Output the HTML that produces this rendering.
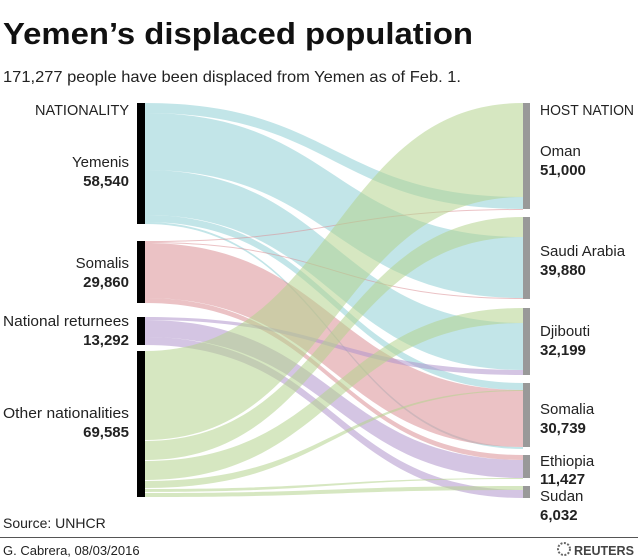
<!DOCTYPE html>
<html><head><meta charset="utf-8"><style>
body{margin:0;background:#fff;}
svg{display:block;font-family:"Liberation Sans",sans-serif;}
</style></head><body>
<svg width="638" height="560" viewBox="0 0 638 560" xmlns="http://www.w3.org/2000/svg">
<text x="3" y="44" font-size="31" font-weight="bold" fill="#111" textLength="470" lengthAdjust="spacingAndGlyphs">Yemen’s displaced population</text>
<text x="3" y="82" font-size="16" fill="#222" textLength="458" lengthAdjust="spacingAndGlyphs">171,277 people have been displaced from Yemen as of Feb. 1.</text>
<g fill-opacity="0.55">
<path fill="#8fd0d6" d="M145,103C334,103 334,197 523,197L523,209C334,209 334,113 145,113Z"/>
<path fill="#8fd0d6" d="M145,113C334,113 334,237 523,237L523,298C334,298 334,170 145,170Z"/>
<path fill="#8fd0d6" d="M145,170C334,170 334,323 523,323L523,370C334,370 334,215 145,215Z"/>
<path fill="#8fd0d6" d="M145,215C334,215 334,383 523,383L523,390C334,390 334,222 145,222Z"/>
<path fill="#8fd0d6" d="M145,222C334,222 334,447 523,447L523,449C334,449 334,224 145,224Z"/>
<path fill="#da8f95" d="M145,241C334,241 334,209 523,209L523,210C334,210 334,242 145,242Z"/>
<path fill="#da8f95" d="M145,242C334,242 334,298 523,298L523,299C334,299 334,243 145,243Z"/>
<path fill="#da8f95" d="M145,243C334,243 334,390 523,390L523,447C334,447 334,298 145,298Z"/>
<path fill="#da8f95" d="M145,298C334,298 334,455 523,455L523,460C334,460 334,303 145,303Z"/>
<path fill="#b096cc" d="M145,317C334,317 334,370 523,370L523,375C334,375 334,320 145,320Z"/>
<path fill="#b096cc" d="M145,320C334,320 334,460 523,460L523,478C334,478 334,337 145,337Z"/>
<path fill="#b096cc" d="M145,337C334,337 334,490 523,490L523,498C334,498 334,345 145,345Z"/>
<path fill="#b4d48e" d="M145,351C334,351 334,103 523,103L523,197C334,197 334,440 145,440Z"/>
<path fill="#b4d48e" d="M145,441C334,441 334,217 523,217L523,237C334,237 334,460 145,460Z"/>
<path fill="#b4d48e" d="M145,461C334,461 334,308 523,308L523,323C334,323 334,480 145,480Z"/>
<path fill="#b4d48e" d="M145,481C334,481 334,390 523,390L523,391C334,391 334,488 145,488Z"/>
<path fill="#b4d48e" d="M145,489C334,489 334,478 523,478L523,479C334,479 334,492 145,492Z"/>
<path fill="#b4d48e" d="M145,493C334,493 334,486 523,486L523,490C334,490 334,497 145,497Z"/>
</g>
<rect x="137" y="103" width="8" height="121" fill="#000"/>
<rect x="137" y="241" width="8" height="62" fill="#000"/>
<rect x="137" y="317" width="8" height="28" fill="#000"/>
<rect x="137" y="351" width="8" height="146" fill="#000"/>
<g fill="#999">
<rect x="523" y="103" width="7" height="106"/>
<rect x="523" y="217" width="7" height="82"/>
<rect x="523" y="308" width="7" height="67"/>
<rect x="523" y="383" width="7" height="64"/>
<rect x="523" y="455" width="7" height="23"/>
<rect x="523" y="486" width="7" height="12"/>
</g>
<g font-size="15" fill="#222" text-anchor="end">
<text x="129" y="115" textLength="94" lengthAdjust="spacingAndGlyphs">NATIONALITY</text>
<text x="129" y="167">Yemenis</text>
<text x="129" y="186" font-weight="bold">58,540</text>
<text x="129" y="268">Somalis</text>
<text x="129" y="287" font-weight="bold">29,860</text>
<text x="129" y="326" textLength="126" lengthAdjust="spacingAndGlyphs">National returnees</text>
<text x="129" y="345" font-weight="bold">13,292</text>
<text x="129" y="418" textLength="126" lengthAdjust="spacingAndGlyphs">Other nationalities</text>
<text x="129" y="437" font-weight="bold">69,585</text>
</g>
<g font-size="15" fill="#222">
<text x="540" y="115" textLength="94" lengthAdjust="spacingAndGlyphs">HOST NATION</text>
<text x="540" y="156">Oman</text>
<text x="540" y="175" font-weight="bold">51,000</text>
<text x="540" y="256">Saudi Arabia</text>
<text x="540" y="275" font-weight="bold">39,880</text>
<text x="540" y="336">Djibouti</text>
<text x="540" y="355" font-weight="bold">32,199</text>
<text x="540" y="414">Somalia</text>
<text x="540" y="433" font-weight="bold">30,739</text>
<text x="540" y="466">Ethiopia</text>
<text x="540" y="484" font-weight="bold">11,427</text>
<text x="540" y="501">Sudan</text>
<text x="540" y="520" font-weight="bold">6,032</text>
</g>
<text x="3" y="528" font-size="14" fill="#222">Source: UNHCR</text>
<line x1="0" y1="537.5" x2="638" y2="537.5" stroke="#555" stroke-width="1"/>
<text x="3" y="555" font-size="13" fill="#222">G. Cabrera,  08/03/2016</text>
<circle cx="564" cy="549" r="6" fill="none" stroke="#666" stroke-width="2" stroke-dasharray="2 1.5"/>
<text x="574" y="555" font-size="13" font-weight="bold" fill="#444" textLength="60" lengthAdjust="spacingAndGlyphs">REUTERS</text>
</svg>
</body></html>
